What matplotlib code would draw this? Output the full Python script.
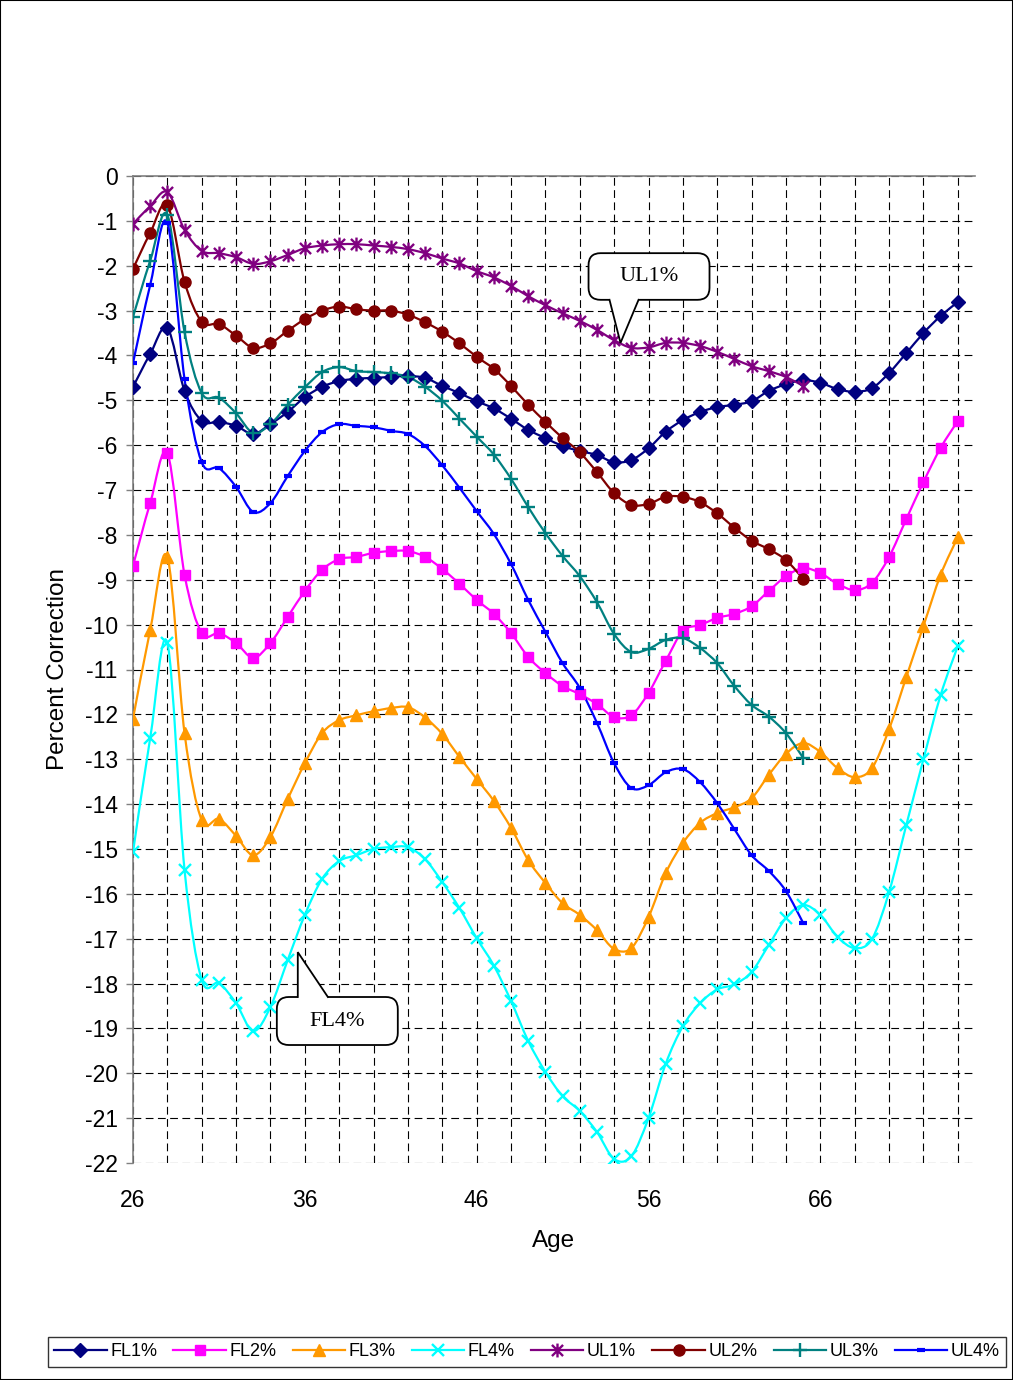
import matplotlib
matplotlib.use("Agg")
import matplotlib.pyplot as plt
from matplotlib.path import Path
from matplotlib.patches import PathPatch, FancyBboxPatch, Polygon, Rectangle
from matplotlib.lines import Line2D

plt.rcParams['font.family'] = ['Liberation Sans', 'DejaVu Sans']

# ages for the FL series (to 74) and the UL series (to 65)
ages_fl = list(range(26, 75))
ages_ul = list(range(26, 66))

fl1 = [-4.70, -3.97, -3.39, -4.79, -5.46, -5.48, -5.57, -5.75, -5.53, -5.26,
       -4.93, -4.70, -4.57, -4.52, -4.50, -4.48, -4.46, -4.50, -4.68, -4.84,
       -5.02, -5.18, -5.41, -5.66, -5.84, -6.02, -6.13, -6.22, -6.38, -6.33,
       -6.07, -5.70, -5.44, -5.26, -5.15, -5.10, -5.02, -4.79, -4.64, -4.55,
       -4.61, -4.75, -4.81, -4.73, -4.39, -3.95, -3.50, -3.12, -2.81]
fl2 = [-8.69, -7.29, -6.18, -8.89, -10.19, -10.19, -10.41, -10.74, -10.41, -9.83,
       -9.25, -8.78, -8.54, -8.49, -8.40, -8.36, -8.36, -8.49, -8.76, -9.09,
       -9.45, -9.76, -10.19, -10.72, -11.08, -11.37, -11.55, -11.77, -12.06, -12.02,
       -11.52, -10.81, -10.14, -10.01, -9.85, -9.76, -9.59, -9.25, -8.92, -8.74,
       -8.85, -9.09, -9.23, -9.07, -8.49, -7.65, -6.82, -6.06, -5.46]
fl3 = [-12.10, -10.12, -8.49, -12.42, -14.36, -14.33, -14.71, -15.14, -14.73, -13.89,
       -13.09, -12.42, -12.13, -12.02, -11.93, -11.86, -11.84, -12.07, -12.44, -12.95,
       -13.44, -13.93, -14.53, -15.25, -15.76, -16.21, -16.47, -16.81, -17.23, -17.21,
       -16.52, -15.54, -14.87, -14.42, -14.20, -14.07, -13.87, -13.35, -12.88, -12.64,
       -12.84, -13.20, -13.40, -13.20, -12.33, -11.17, -10.03, -8.89, -8.05]
fl4 = [-15.07, -12.53, -10.41, -15.47, -17.92, -17.99, -18.44, -19.06, -18.52, -17.48,
       -16.47, -15.67, -15.27, -15.14, -15.00, -14.96, -14.96, -15.23, -15.74, -16.32,
       -16.99, -17.60, -18.39, -19.28, -19.97, -20.51, -20.84, -21.31, -21.91, -21.85,
       -21.00, -19.79, -18.95, -18.44, -18.13, -18.02, -17.74, -17.14, -16.54, -16.25,
       -16.47, -16.96, -17.21, -17.01, -15.96, -14.47, -13.00, -11.57, -10.48]
ul1 = [-1.07, -0.67, -0.36, -1.20, -1.67, -1.72, -1.81, -1.96, -1.90, -1.76,
       -1.61, -1.55, -1.52, -1.52, -1.55, -1.58, -1.63, -1.72, -1.84, -1.95,
       -2.12, -2.26, -2.45, -2.68, -2.88, -3.06, -3.23, -3.43, -3.66, -3.83,
       -3.82, -3.72, -3.72, -3.79, -3.92, -4.08, -4.24, -4.35, -4.48, -4.68]
ul2 = [-2.07, -1.27, -0.65, -2.36, -3.25, -3.30, -3.56, -3.83, -3.73, -3.45,
       -3.19, -3.00, -2.91, -2.97, -3.00, -3.00, -3.09, -3.26, -3.47, -3.73,
       -4.03, -4.30, -4.68, -5.10, -5.48, -5.84, -6.16, -6.60, -7.07, -7.33,
       -7.31, -7.15, -7.15, -7.27, -7.52, -7.84, -8.13, -8.32, -8.56, -8.98]
ul3 = [-3.14, -1.89, -0.87, -3.48, -4.84, -4.94, -5.29, -5.73, -5.53, -5.10,
       -4.71, -4.37, -4.26, -4.35, -4.37, -4.40, -4.48, -4.70, -5.01, -5.41,
       -5.81, -6.21, -6.75, -7.38, -7.96, -8.47, -8.92, -9.50, -10.21, -10.61,
       -10.54, -10.34, -10.30, -10.52, -10.86, -11.37, -11.79, -12.05, -12.42, -12.97]
ul4 = [-4.17, -2.43, -1.05, -4.53, -6.38, -6.51, -6.93, -7.49, -7.29, -6.69,
       -6.13, -5.71, -5.53, -5.57, -5.60, -5.68, -5.75, -6.02, -6.45, -6.95,
       -7.47, -7.98, -8.65, -9.45, -10.16, -10.86, -11.41, -12.19, -13.09, -13.64,
       -13.58, -13.29, -13.22, -13.51, -13.98, -14.56, -15.14, -15.49, -15.94, -16.65]

x_ticks = [26, 36, 46, 56, 66]

# asterisk marker: vertical bar plus an x
star = Path([(0, -1), (0, 1), (-0.8, -0.8), (0.8, 0.8), (-0.8, 0.8), (0.8, -0.8)],
            [Path.MOVETO, Path.LINETO, Path.MOVETO, Path.LINETO, Path.MOVETO, Path.LINETO])

series = [
    ("FL1%", ages_fl, fl1, "#000080", dict(marker="D", ms=7.5)),
    ("FL2%", ages_fl, fl2, "#FF00FF", dict(marker="s", ms=7.5)),
    ("FL3%", ages_fl, fl3, "#FF9900", dict(marker="^", ms=9)),
    ("FL4%", ages_fl, fl4, "#00FFFF", dict(marker="x", ms=8, mew=1.7)),
    ("UL1%", ages_ul, ul1, "#800080", dict(marker=star, ms=10, mew=1.7)),
    ("UL2%", ages_ul, ul2, "#800000", dict(marker="o", ms=8)),
    ("UL3%", ages_ul, ul3, "#008080", dict(marker="+", ms=10, mew=1.7)),
    ("UL4%", ages_ul, ul4, "#0000FF", dict(marker="_", ms=6, mew=3)),
]


def smooth_path(x, y):
    # Bezier segments through every point, Excel-style smoothed line
    verts = [(x[0], y[0])]
    codes = [Path.MOVETO]
    n = len(x)
    for i in range(n - 1):
        xp, yp = (x[i - 1], y[i - 1]) if i > 0 else (x[i], y[i])
        xn, yn = (x[i + 2], y[i + 2]) if i + 2 < n else (x[i + 1], y[i + 1])
        c1 = (x[i] + (x[i + 1] - xp) / 6.0, y[i] + (y[i + 1] - yp) / 6.0)
        c2 = (x[i + 1] - (xn - x[i]) / 6.0, y[i + 1] - (yn - y[i]) / 6.0)
        verts += [c1, c2, (x[i + 1], y[i + 1])]
        codes += [Path.CURVE4] * 3
    return Path(verts, codes)


W, H = 1013, 1380
fig = plt.figure(figsize=(W / 100, H / 100), dpi=100)
ax = fig.add_axes([133 / W, (H - 1163) / H, (975 - 133) / W, (1163 - 176) / H])

ax.set_xlim(26, 75)
ax.set_ylim(-22, 0)

ax.set_xticks(range(26, 75, 2))
ax.set_xticklabels([str(a) if a in x_ticks else "" for a in range(26, 75, 2)], fontsize=16.5)
ax.set_yticks(range(-22, 1))
ax.set_yticklabels([str(v) for v in range(-22, 1)], fontsize=16.5)
ax.tick_params(axis="x", length=0, pad=19)
ax.tick_params(axis="y", length=5, width=1, color="#808080", pad=6)

ax.grid(True, color="black", linestyle=(0, (7, 4)), linewidth=0.8)
ax.set_axisbelow(True)
for side in ("right", "bottom"):
    ax.spines[side].set_visible(False)
for side in ("left", "top"):
    ax.spines[side].set_color("#808080")
    ax.spines[side].set_linewidth(1.2)

handles = []
for name, xs, ys, color, mk in series:
    ax.add_patch(PathPatch(smooth_path(xs, ys), fill=False, edgecolor=color,
                           linewidth=1.6, zorder=3))
    ax.plot(xs, ys, linestyle="none", color=color, zorder=4, **mk)
    handles.append(Line2D([], [], color=color, linewidth=1.6, label=name, **mk))

ax.set_ylabel("Percent Correction", fontsize=17.5)
ax.yaxis.set_label_coords(-0.076, 0.5)
ax.set_xlabel("Age", fontsize=17.5)
ax.xaxis.set_label_coords(0.5, -0.068)


def callout(text, x0, x1, y0, y1, base, tip, up):
    # rounded box with a pointer leaving its top (up) or bottom edge
    aspect = 17.2 / 44.86
    box = FancyBboxPatch((x0, y1), x1 - x0, y0 - y1,
                         boxstyle="round,pad=0,rounding_size=0.7",
                         mutation_aspect=aspect, facecolor="white",
                         edgecolor="black", linewidth=1.3, zorder=6)
    ax.add_patch(box)
    edge = y0 if up else y1
    inner = edge - 0.08 if up else edge + 0.08
    ax.add_patch(Polygon([(base[0], inner), (base[0], edge), tip, (base[1], edge),
                          (base[1], inner)], closed=True, facecolor="white",
                         edgecolor="none", zorder=7))
    ax.plot([base[0], tip[0], base[1]], [edge, tip[1], edge], color="black",
            linewidth=1.3, zorder=8, solid_joinstyle="miter")
    ax.text((x0 + x1) / 2, (y0 + y1) / 2, text, ha="center", va="center",
            fontsize=16, family="Liberation Serif", zorder=9)


callout("UL1%", 52.51, 59.55, -1.72, -2.76, (53.73, 55.42), (54.37, -3.72), up=False)
callout("FL4%", 34.37, 41.41, -18.30, -19.37, (35.59, 37.34), (35.59, -17.30), up=True)

leg = fig.legend(handles=handles, loc="center", bbox_to_anchor=(527 / W, (H - 1352) / H),
                 ncol=8, fontsize=13, frameon=True, fancybox=False, edgecolor="black",
                 handlelength=2.9, handletextpad=0.2, columnspacing=0.9, borderpad=0.35)
leg.get_frame().set_linewidth(1.0)

fig.patches.append(Rectangle((0, 0), 1, 1, transform=fig.transFigure, fill=False,
                             edgecolor="black", linewidth=1.5))

fig.savefig("out.png", dpi=100)
